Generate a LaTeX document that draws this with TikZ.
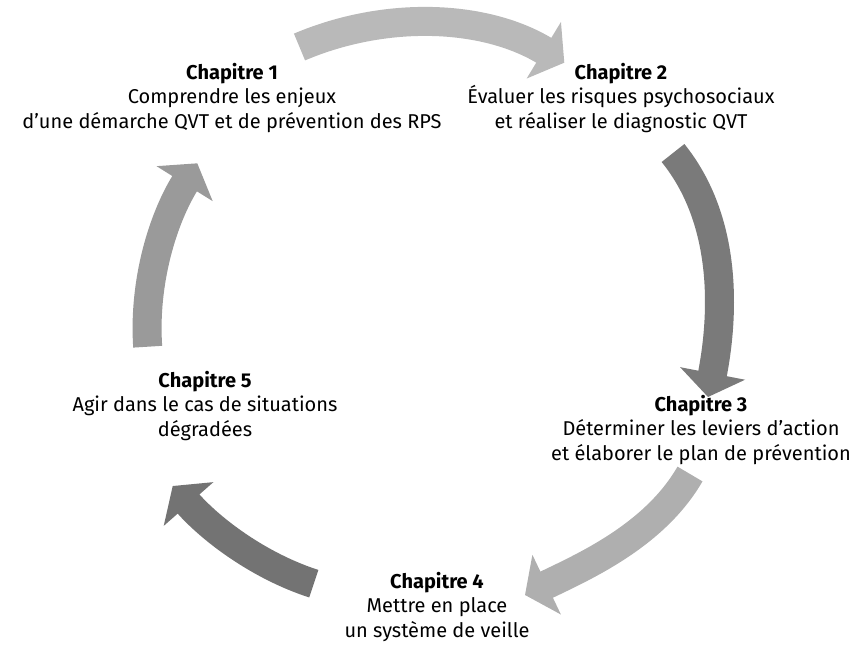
\documentclass[tikz,border=0pt]{standalone}
\usepackage{fontspec}
\setmainfont{Fira Sans}
\usetikzlibrary{arrows.meta}
\definecolor{gTop}{HTML}{B9B9B9}
\definecolor{gRight}{HTML}{7A7A7A}
\definecolor{gBR}{HTML}{AFAFAF}
\definecolor{gBL}{HTML}{737373}
\definecolor{gLeft}{HTML}{9A9A9A}
\tikzset{
  cyclearrow/.style={line width=29pt, #1, -{Triangle[length=24pt, width=65pt]}},
  chap/.style={align=center, font=\fontsize{20}{24.5}\selectfont, inner sep=0pt}
}
\begin{document}
\begin{tikzpicture}[x=1pt,y=-1pt]
\useasboundingbox (0,0) rectangle (854,646);
% texts
\node[chap] (c1) at (232,98) {\textbf{Chapitre 1}\\Comprendre les enjeux\\d’une démarche QVT et de prévention des RPS};
\node[chap] (c2) at (621,98) {\textbf{Chapitre 2}\\Évaluer les risques psychosociaux\\et réaliser le diagnostic QVT};
\node[chap] (c3) at (701,430) {\textbf{Chapitre 3}\\Déterminer les leviers d’action\\et élaborer le plan de prévention};
\node[chap] (c4) at (437,607) {\textbf{Chapitre 4}\\Mettre en place\\un système de veille};
\node[chap] (c5) at (205,406) {\textbf{Chapitre 5}\\Agir dans le cas de situations\\dégradées};
% arrows
\coordinate (a1s) at (299.5,47);  \coordinate (a1e) at (564.3,62.7);
\coordinate (a2s) at (673,153);   \coordinate (a2e) at (708,397);
\coordinate (a3s) at (690,474);   \coordinate (a3e) at (525,595);
\coordinate (a4s) at (313.8,583.7); \coordinate (a4e) at (172.7,486);
\coordinate (a5s) at (147.7,346.7); \coordinate (a5e) at (197.3,163.3);
\draw[cyclearrow=gTop]   (a1s) .. controls (385.5,10.5) and (484.2,14.1) .. (a1e);
\draw[cyclearrow=gRight] (a2s) .. controls (727.2,220.1) and (724.3,312.7) .. (a2e);
\draw[cyclearrow=gBR]    (a3s) .. controls (655.2,534.2) and (587.6,565.1) .. (a3e);
\draw[cyclearrow=gBL]    (a4s) .. controls (258.6,565.8) and (211,529.5) .. (a4e);
\draw[cyclearrow=gLeft]  (a5s) .. controls (143.3,281.8) and (162.9,218.5) .. (a5e);
\end{tikzpicture}
\end{document}
